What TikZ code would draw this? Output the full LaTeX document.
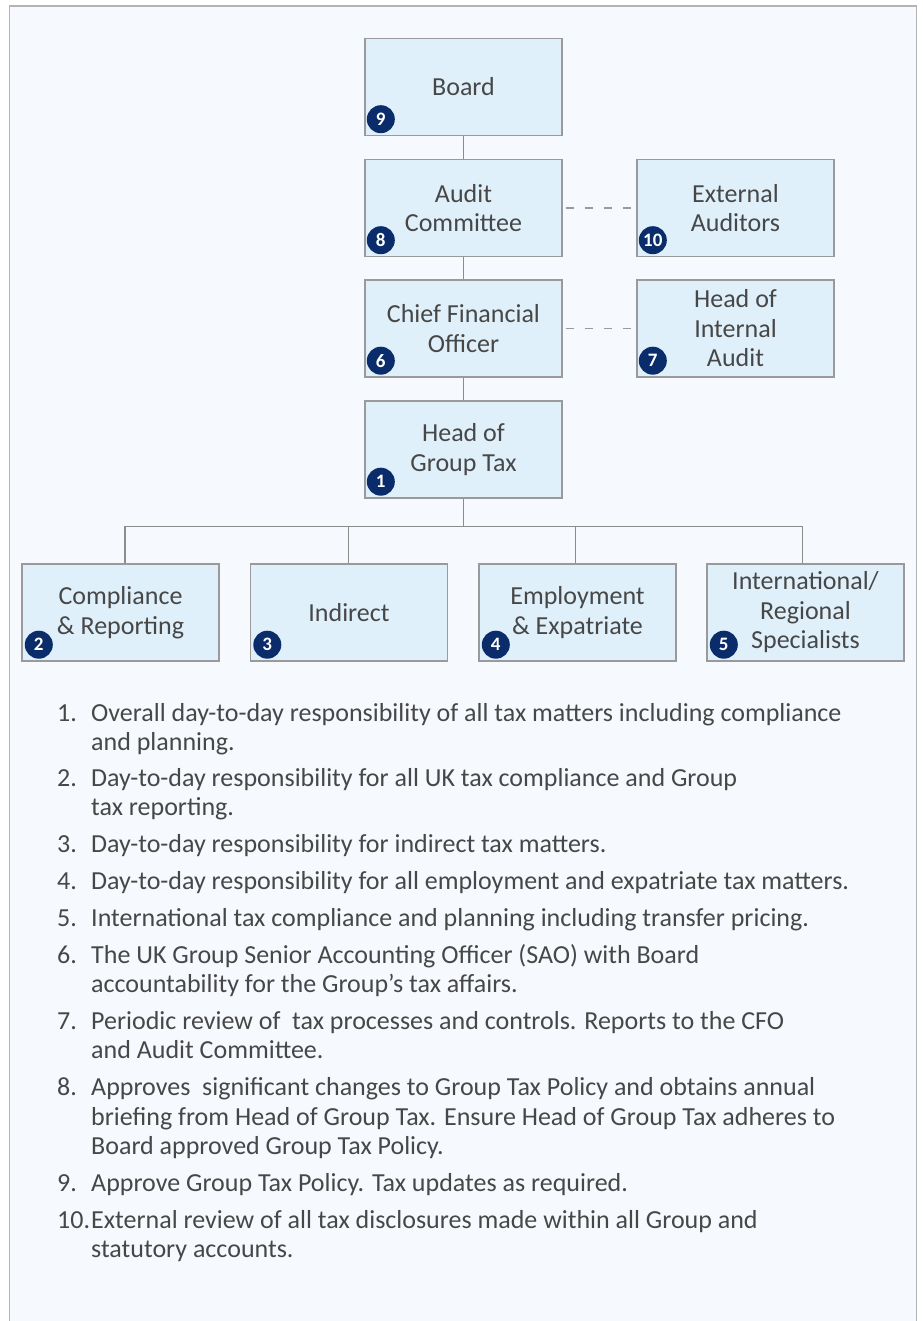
\documentclass[tikz,border=0pt]{standalone}
\usepackage{fontspec}
\setmainfont{Carlito}
\definecolor{boxfill}{HTML}{DFF0FB}
\definecolor{boxline}{HTML}{9A9A9A}
\definecolor{connline}{HTML}{8C8C8C}
\definecolor{framecol}{HTML}{B4B4B4}
\definecolor{bgcol}{HTML}{F6FAFE}
\definecolor{navy}{HTML}{0B2C6B}
\definecolor{txt}{HTML}{474747}
\tikzset{
  orgbox/.style={draw=boxline, fill=boxfill, line width=1.4pt, minimum width=197pt, minimum height=97pt,
    inner sep=0pt, align=center, text=txt, font=\fontsize{26}{29.5}\selectfont},
  badge/.style={circle, fill=navy, minimum size=28pt, inner sep=0pt, text=white,
    font=\fontsize{19}{19}\selectfont\bfseries},
  conn/.style={draw=connline, line width=1.4pt},
  dashconn/.style={draw=boxline, line width=1.4pt, dash pattern=on 8pt off 11pt},
  itemtxt/.style={anchor=base west, inner sep=0pt, text=txt, font=\fontsize{26}{29.5}\selectfont}
}
\begin{document}
\begin{tikzpicture}[x=1pt,y=-1pt]
\fill[white] (0,0) rectangle (922,1321);
\useasboundingbox (0,0) rectangle (922,1321);
\fill[bgcol] (9.5,6) rectangle (916.5,1321);
\draw[framecol, line width=1.5pt] (9.5,1321) -- (9.5,6) -- (916.5,6) -- (916.5,1321);

% boxes
\node[orgbox] (board) at (463.5,87) {\raisebox{-1.5pt}{Board}};
\node[orgbox] (ac) at (463.5,208) {Audit\\Committee};
\node[orgbox] (ea) at (735.5,208) {External\\Auditors};
\node[orgbox] (cfo) at (463.5,328.5) {Chief Financial\\Officer};
\node[orgbox] (hia) at (735.5,328.5) {Head of\\Internal\\Audit};
\node[orgbox] (hgt) at (463.5,449.5) {Head of\\Group Tax};
\node[orgbox] (cr) at (120.5,612.5) {Compliance\\\& Reporting};
\node[orgbox] (ind) at (349,612.5) {\raisebox{-1.5pt}{Indirect}};
\node[orgbox] (emp) at (577.5,612.5) {Employment\\\& Expatriate};
\node[orgbox] (intl) at (805.5,612.5) {International/\\Regional\\Specialists};

% badges
\node[badge] (b9) at ([shift={(16.5,-17)}]board.south west) {9};
\node[badge] (b8) at ([shift={(16.5,-17)}]ac.south west) {8};
\node[badge] (b10) at ([shift={(16.5,-17)}]ea.south west) {10};
\node[badge] (b6) at ([shift={(16.5,-17)}]cfo.south west) {6};
\node[badge] (b7) at ([shift={(16.5,-17)}]hia.south west) {7};
\node[badge] (b1) at ([shift={(16.5,-17)}]hgt.south west) {1};
\node[badge] (b2) at ([shift={(17.5,-17)}]cr.south west) {2};
\node[badge] (b3) at ([shift={(17.5,-17)}]ind.south west) {3};
\node[badge] (b4) at ([shift={(17.5,-17)}]emp.south west) {4};
\node[badge] (b5) at ([shift={(17.5,-17)}]intl.south west) {5};

% connectors
\draw[conn] (board.south) -- (ac.north);
\draw[conn] (ac.south) -- (cfo.north);
\draw[conn] (cfo.south) -- (hgt.north);
\coordinate (j) at ([shift={(0,27.5)}]hgt.south);
\draw[conn] (hgt.south) -- (j);
\draw[conn] ([xshift=4.5]cr.north) |- (j) -| ([xshift=-3]intl.north);
\draw[conn] ([xshift=-0.7]ind.north) -- ([xshift=-0.7]ind.north |- j);
\draw[conn] ([xshift=-2.2]emp.north) -- ([xshift=-2.2]emp.north |- j);
\draw[dashconn] ([xshift=3]ac.east) -- (ea.west);
\draw[dashconn] ([xshift=3]cfo.east) -- (hia.west);

% list
\node[itemtxt] (n1) at (57,721) {1.};
\node[itemtxt] (t1a) at (91,721) {Overall day-to-day responsibility of all tax matters including compliance};
\node[itemtxt] (t1b) at (91,750) {and planning.};
\node[itemtxt] (n2) at (57,786) {2.};
\node[itemtxt] (t2a) at (91,786) {Day-to-day responsibility for all UK tax compliance and Group};
\node[itemtxt] (t2b) at (91,815) {tax reporting.};
\node[itemtxt] (n3) at (57,852) {3.};
\node[itemtxt] (t3a) at (91,852) {Day-to-day responsibility for indirect tax matters.};
\node[itemtxt] (n4) at (57,889) {4.};
\node[itemtxt] (t4a) at (91,889) {Day-to-day responsibility for all employment and expatriate tax matters.};
\node[itemtxt] (n5) at (57,926) {5.};
\node[itemtxt] (t5a) at (91,926) {International tax compliance and planning including transfer pricing.};
\node[itemtxt] (n6) at (57,963) {6.};
\node[itemtxt] (t6a) at (91,963) {The UK Group Senior Accounting Officer (SAO) with Board};
\node[itemtxt] (t6b) at (91,992) {accountability for the Group’s tax affairs.};
\node[itemtxt] (n7) at (57,1029) {7.};
\node[itemtxt] (t7a) at (91,1029) {Periodic review of~ tax processes and controls. Reports to the CFO};
\node[itemtxt] (t7b) at (91,1058) {and Audit Committee.};
\node[itemtxt] (n8) at (57,1095) {8.};
\node[itemtxt] (t8a) at (91,1095) {Approves~ significant changes to Group Tax Policy and obtains annual};
\node[itemtxt] (t8b) at (91,1125) {briefing from Head of Group Tax. Ensure Head of Group Tax adheres to};
\node[itemtxt] (t8c) at (91,1154) {Board approved Group Tax Policy.};
\node[itemtxt] (n9) at (57,1191) {9.};
\node[itemtxt] (t9a) at (91,1191) {Approve Group Tax Policy. Tax updates as required.};
\node[itemtxt] (n10) at (57,1228) {10.};
\node[itemtxt] (t10a) at (91,1228) {External review of all tax disclosures made within all Group and};
\node[itemtxt] (t10b) at (91,1257) {statutory accounts.};
\end{tikzpicture}
\end{document}
